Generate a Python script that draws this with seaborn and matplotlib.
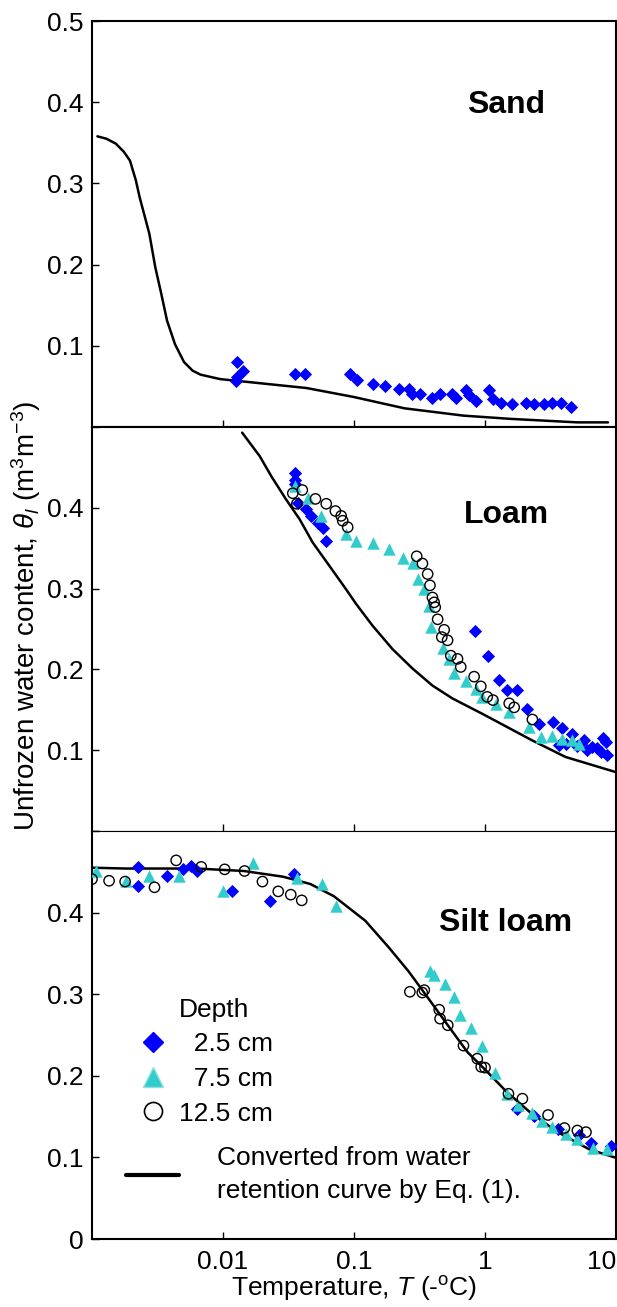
import numpy as np
import pandas as pd
import matplotlib
matplotlib.use('Agg')
import matplotlib.pyplot as plt
from matplotlib.lines import Line2D
from matplotlib.ticker import NullLocator
import seaborn as sns

# Axis ticks and labels
x_ticks = [0.01, 0.1, 1, 10]
x_tick_labels = ['0.01', '0.1', '1', '10']
y_ticks = [0, 0.1, 0.2, 0.3, 0.4, 0.5]
sand_ytick_labels = ['', '0.1', '0.2', '0.3', '0.4', '0.5']
loam_ytick_labels = ['', '0.1', '0.2', '0.3', '0.4', '']
silt_ytick_labels = ['0', '0.1', '0.2', '0.3', '0.4', '']
soil_names = ['Sand', 'Loam', 'Silt loam']
depth_labels = ['  2.5 cm', '  7.5 cm', '12.5 cm']
curve_label = 'Converted from water\nretention curve by Eq. (1).'

# Sand: curve from water retention + 2.5 cm data
sand_curve_T = [0.0011, 0.00129, 0.00152, 0.00175, 0.00195, 0.00216, 0.00231, 0.00274, 0.00304,
                0.00338, 0.00374, 0.0043, 0.00504, 0.00586, 0.00673, 0.00951, 0.0165, 0.0434,
                0.0993, 0.243, 0.685, 1.57, 5.07, 8.69]
sand_curve_theta = [0.358, 0.355, 0.349, 0.339, 0.328, 0.304, 0.283, 0.238, 0.197,
                    0.164, 0.131, 0.102, 0.080, 0.0694, 0.0645, 0.059, 0.055, 0.048,
                    0.037, 0.023, 0.014, 0.010, 0.0057, 0.0057]
sand_d1_T = [0.0125, 0.0129, 0.0142, 0.0128, 0.0353, 0.0425, 0.0927, 0.105, 0.140, 0.173, 0.219,
             0.261, 0.275, 0.321, 0.394, 0.453, 0.557, 0.597, 0.710, 0.760, 0.855, 1.07, 1.15,
             1.32, 1.62, 2.07, 2.37, 2.82, 3.24, 3.80, 4.57]
sand_d1_theta = [0.057, 0.080, 0.069, 0.061, 0.065, 0.065, 0.065, 0.058, 0.053, 0.050, 0.047,
                 0.047, 0.041, 0.041, 0.036, 0.041, 0.041, 0.036, 0.045, 0.039, 0.032, 0.045, 0.034,
                 0.030, 0.028, 0.030, 0.028, 0.028, 0.029, 0.030, 0.025]

# Loam
loam_curve_T = [0.0140, 0.01905, 0.02339, 0.0304, 0.0384, 0.0484, 0.0650, 0.0871, 0.1038,
                0.1387, 0.197, 0.280, 0.397, 0.565, 0.955, 2.30, 4.12, 9.91]
loam_curve_theta = [0.493, 0.464, 0.439, 0.410, 0.386, 0.357, 0.328, 0.299, 0.281,
                    0.254, 0.225, 0.201, 0.180, 0.164, 0.145, 0.112, 0.0916, 0.073]
loam_d1_T = [0.0352, 0.0352, 0.0352, 0.0372, 0.0432, 0.0471, 0.0530, 0.0578, 0.0614,
             0.841, 1.06, 1.28, 1.46, 1.77, 2.10, 2.58, 3.30, 3.89, 4.63, 5.69, 6.58, 7.62,
             8.32, 8.57, 3.66, 4.17, 5.0, 6.0, 7.2, 7.9]
loam_d1_theta = [0.443, 0.435, 0.429, 0.406, 0.398, 0.390, 0.381, 0.375, 0.359,
                 0.248, 0.217, 0.187, 0.175, 0.174, 0.151, 0.133, 0.135, 0.127, 0.120, 0.112,
                 0.104, 0.098, 0.110, 0.094, 0.106, 0.108, 0.105, 0.100, 0.103, 0.115]
loam_d2_T = [0.0352, 0.0445, 0.0561, 0.0871, 0.1038, 0.1387, 0.186, 0.235, 0.280, 0.306,
             0.344, 0.375, 0.386, 0.474, 0.533, 0.582, 0.714, 0.851, 0.955, 1.21, 1.53,
             2.17, 2.66, 3.26, 3.89, 4.63, 5.21]
loam_d2_theta = [0.427, 0.412, 0.390, 0.367, 0.359, 0.357, 0.349, 0.338, 0.332, 0.312,
                 0.299, 0.279, 0.252, 0.227, 0.213, 0.196, 0.186, 0.176, 0.166, 0.157, 0.147,
                 0.129, 0.116, 0.118, 0.114, 0.112, 0.108]
loam_d3_T = [0.0341, 0.0403, 0.0366, 0.0508, 0.0614, 0.0721, 0.0798, 0.0820, 0.0895,
             0.301, 0.333, 0.365, 0.380, 0.397, 0.409, 0.417, 0.435, 0.488, 0.468, 0.518,
             0.548, 0.617, 0.653, 0.826, 0.929, 1.04, 1.15, 1.53, 1.67, 2.30]
loam_d3_theta = [0.418, 0.422, 0.405, 0.411, 0.405, 0.396, 0.390, 0.384, 0.376,
                 0.340, 0.331, 0.318, 0.304, 0.289, 0.283, 0.277, 0.262, 0.249, 0.240, 0.236,
                 0.217, 0.213, 0.203, 0.191, 0.179, 0.166, 0.162, 0.158, 0.153, 0.138]

# Silt loam
silt_curve_T = [0.001, 0.00181, 0.00628, 0.0144, 0.0287, 0.0465, 0.0703, 0.122, 0.185, 0.261,
                0.369, 0.520, 0.735, 1.04, 1.47, 2.22, 3.59, 6.24, 9.77]
silt_curve_theta = [0.455, 0.454, 0.454, 0.451, 0.444, 0.435, 0.420, 0.390, 0.357, 0.328,
                    0.295, 0.262, 0.229, 0.205, 0.180, 0.155, 0.131, 0.110, 0.100]
silt_d1_T = [0.00226, 0.00223, 0.00374, 0.00493, 0.00574, 0.00628, 0.0117, 0.0230, 0.0348,
             1.74, 2.37, 3.59, 5.25, 6.46, 9.12]
silt_d1_theta = [0.456, 0.433, 0.445, 0.453, 0.457, 0.451, 0.427, 0.414, 0.447,
                 0.159, 0.151, 0.135, 0.127, 0.118, 0.114]
silt_d2_T = [0.00108, 0.00181, 0.00274, 0.00460, 0.00998, 0.0168, 0.0365, 0.0571, 0.0728,
             0.381, 0.409, 0.495, 0.577, 0.640, 0.787, 0.955, 1.19, 1.47, 1.80, 2.30, 2.73,
             3.24, 4.12, 5.07, 6.68, 8.51]
silt_d2_theta = [0.451, 0.439, 0.445, 0.445, 0.427, 0.461, 0.443, 0.435, 0.408,
                 0.328, 0.324, 0.312, 0.297, 0.274, 0.258, 0.236, 0.203, 0.178, 0.164, 0.155,
                 0.145, 0.137, 0.129, 0.122, 0.112, 0.110]
silt_d3_T = [0.00100, 0.00135, 0.00179, 0.00300, 0.00439, 0.00682, 0.0103, 0.0146, 0.0200,
             0.0264, 0.0329, 0.0399, 0.267, 0.332, 0.344, 0.447, 0.454, 0.520, 0.685, 0.873,
             0.935, 1.00, 1.51, 1.93, 3.03, 4.04, 5.07, 5.90]
silt_d3_theta = [0.441, 0.439, 0.438, 0.431, 0.464, 0.456, 0.453, 0.451, 0.438,
                 0.426, 0.422, 0.415, 0.303, 0.302, 0.305, 0.281, 0.270, 0.262, 0.237, 0.221,
                 0.211, 0.210, 0.178, 0.172, 0.152, 0.136, 0.133, 0.131]

blue = '#0000ff'
cyan = '#33cccc'

sns.set_style('ticks')
plt.rcParams['font.family'] = ['Liberation Sans', 'DejaVu Sans']
plt.rcParams['mathtext.fontset'] = 'custom'
plt.rcParams['mathtext.rm'] = 'Liberation Sans'
plt.rcParams['mathtext.it'] = 'Liberation Sans:italic'
for key in ['text.color', 'axes.labelcolor', 'xtick.color', 'ytick.color', 'axes.edgecolor']:
    plt.rcParams[key] = 'black'

fig = plt.figure(figsize=(6.17, 13.07), dpi=100)
left = 92 / 617
width = 524 / 617
ax_sand = fig.add_axes([left, 0.6733, width, 0.3106])
ax_loam = fig.add_axes([left, 0.3642, width, 0.3091])
ax_silt = fig.add_axes([left, 0.0520, width, 0.3122])


def draw_points(ax, d1, d2, d3):
    # 2.5 cm diamonds, 7.5 cm triangles, 12.5 cm open circles
    if d1 is not None:
        sns.scatterplot(x=d1[0], y=d1[1], ax=ax, marker='D', s=45, color=blue,
                        edgecolor=blue, linewidth=0, legend=False, zorder=3)
    if d2 is not None:
        sns.scatterplot(x=d2[0], y=d2[1], ax=ax, marker='^', s=80, color=cyan,
                        edgecolor=cyan, linewidth=0, legend=False, zorder=3)
    if d3 is not None:
        sns.scatterplot(x=d3[0], y=d3[1], ax=ax, marker='o', s=55, facecolors='none',
                        edgecolor='black', linewidth=1.0, legend=False, zorder=4)


sns.lineplot(x=sand_curve_T, y=sand_curve_theta, ax=ax_sand, color='black', linewidth=1.8,
             sort=False, estimator=None, zorder=2)
draw_points(ax_sand, (sand_d1_T, sand_d1_theta), None, None)

sns.lineplot(x=loam_curve_T, y=loam_curve_theta, ax=ax_loam, color='black', linewidth=1.8,
             sort=False, estimator=None, zorder=2)
draw_points(ax_loam, (loam_d1_T, loam_d1_theta), (loam_d2_T, loam_d2_theta),
            (loam_d3_T, loam_d3_theta))

sns.lineplot(x=silt_curve_T, y=silt_curve_theta, ax=ax_silt, color='black', linewidth=1.8,
             sort=False, estimator=None, zorder=2)
draw_points(ax_silt, (silt_d1_T, silt_d1_theta), (silt_d2_T, silt_d2_theta),
            (silt_d3_T, silt_d3_theta))

panels = [(ax_sand, sand_ytick_labels, 0.793), (ax_loam, loam_ytick_labels, 0.782),
          (ax_silt, silt_ytick_labels, 0.775)]
for i, (ax, ylabels, ty) in enumerate(panels):
    ax.set_xscale('log')
    ax.set_xlim(0.001, 10)
    ax.set_ylim(0, 0.5)
    ax.xaxis.set_minor_locator(NullLocator())
    ax.set_xticks(x_ticks)
    ax.set_yticks(y_ticks)
    ax.set_yticklabels(ylabels)
    ax.tick_params(direction='in', length=5, width=1, labelsize=19, pad=6)
    ax.tick_params(axis='x', pad=8)
    if ax is ax_silt:
        ax.set_xticklabels(x_tick_labels)
    else:
        ax.set_xticklabels([])
    ax.set_xlabel('')
    ax.set_ylabel('')
    for side in ['left', 'right', 'top', 'bottom']:
        ax.spines[side].set_linewidth(1.5)
    ax.text(0.79, ty, soil_names[i], transform=ax.transAxes, fontsize=23,
            fontweight='bold', ha='center', va='center')

ax_loam.spines['bottom'].set_linewidth(0.8)
ax_silt.spines['top'].set_linewidth(0.8)

# last tick label sits at the right edge, keep it inside like the original
for lab in ax_silt.get_xticklabels():
    if lab.get_text() == '10':
        lab.set_ha('right')

ax_silt.set_xlabel(r'Temperature, $T$ (-$^{\rm o}$C)', fontsize=19, labelpad=0)
fig.text(0.042, 0.529, r'Unfrozen water content, $\theta_l$ (m$^3$m$^{-3}$)',
         rotation=90, ha='center', va='center', fontsize=20)

# Legend for depths ("Depth" as a title row with an empty handle)
depth_handles = [Line2D([], [], linestyle='', marker=''),
                 Line2D([], [], linestyle='', marker='D', color=blue, markersize=10),
                 Line2D([], [], linestyle='', marker='^', color=cyan, markersize=14,
                        markeredgecolor='#8fe0e0'),
                 Line2D([], [], linestyle='', marker='o', markerfacecolor='none',
                        markeredgecolor='black', markersize=13, markeredgewidth=1.2)]
leg1 = ax_silt.legend(depth_handles, ['Depth'] + depth_labels, loc='upper left',
                      bbox_to_anchor=(0.091, 0.591), frameon=False, fontsize=19,
                      handlelength=1.0, handletextpad=0.5, labelspacing=0.4,
                      borderpad=0, borderaxespad=0)
ax_silt.add_artist(leg1)
line_handle = [Line2D([], [], color='black', linewidth=3)]
leg2 = ax_silt.legend(line_handle, [curve_label], loc='upper left', bbox_to_anchor=(0.065, 0.228),
                      frameon=False, fontsize=19, handlelength=2.0, handletextpad=1.45,
                      borderpad=0, borderaxespad=0)
leg2.get_texts()[0].set_linespacing(1.45)

plt.savefig('out.png', dpi=100)
